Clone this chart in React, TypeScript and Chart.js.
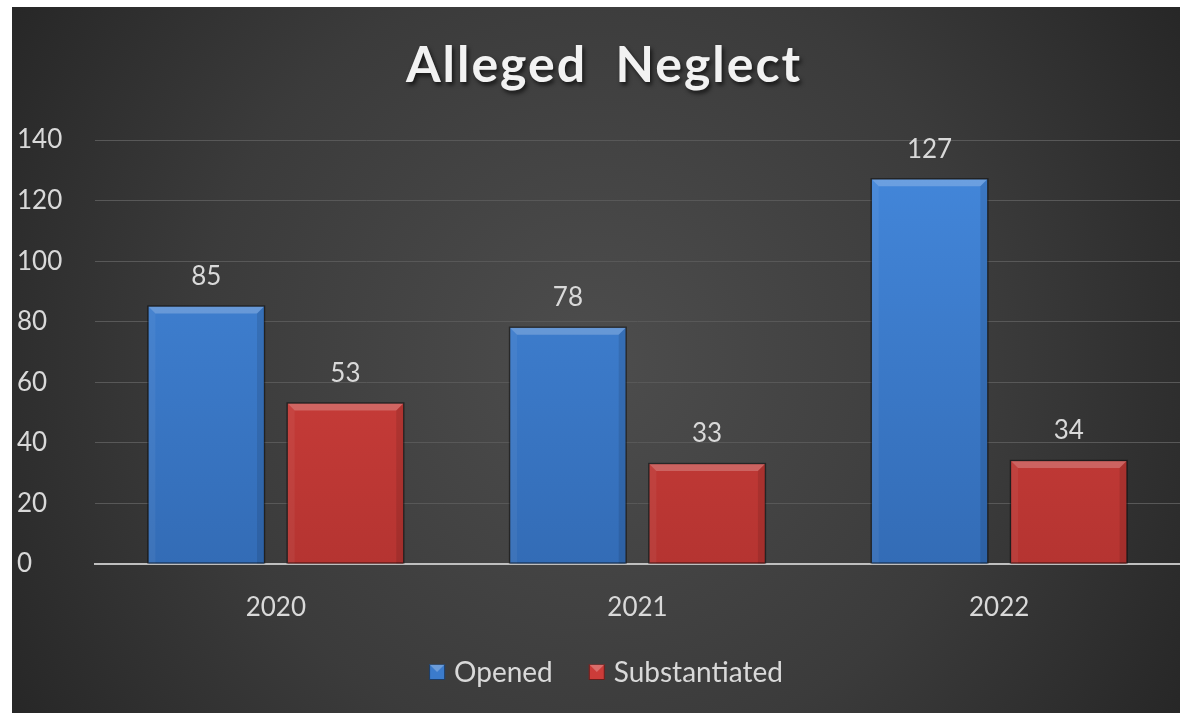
import React, { useEffect, useRef } from "react";
import { Chart, registerables } from "chart.js";

Chart.register(...registerables);

const titleText = "Alleged Neglect";
const categories = ["2020", "2021", "2022"];
const seriesNames = ["Opened", "Substantiated"];
const openedValues = [85, 78, 127];
const substantiatedValues = [53, 33, 34];
const yMin = 0;
const yMax = 140;
const yStep = 20;

const FONT = "Lato, 'Open Sans', sans-serif";
const TEXT = "#d9d9d9";
const BLUE_TOP = "#4488dc";
const BLUE_BOT = "#336cb6";
const RED_TOP = "#dc4541";
const RED_BOT = "#b53431";

const W = 1168;
const H = 706;

const bgPlugin = {
  id: "bg",
  beforeDraw(chart: any) {
    const { ctx, width, height } = chart;
    ctx.save();
    const g = ctx.createRadialGradient(width * 0.5, height * 0.5, 0, width * 0.5, height * 0.5, width * 0.62);
    g.addColorStop(0, "#4d4d4d");
    g.addColorStop(0.55, "#3b3b3b");
    g.addColorStop(1, "#242424");
    ctx.fillStyle = g;
    ctx.fillRect(0, 0, width, height);
    ctx.restore();
  },
};

const titlePlugin = {
  id: "customTitle",
  afterDraw(chart: any) {
    const { ctx, width } = chart;
    ctx.save();
    ctx.font = `bold 50px ${FONT}`;
    (ctx as any).letterSpacing = "2px";
    ctx.textAlign = "center";
    ctx.textBaseline = "middle";
    ctx.shadowColor = "rgba(0,0,0,0.65)";
    ctx.shadowOffsetX = 2;
    ctx.shadowOffsetY = 3;
    ctx.shadowBlur = 4;
    ctx.fillStyle = "#f2f2f2";
    ctx.fillText(titleText.replace(" ", "  "), width / 2 + 8, 59);
    ctx.restore();
  },
};

const bevelPlugin = {
  id: "bevel",
  afterDatasetsDraw(chart: any) {
    const { ctx } = chart;
    ctx.save();
    chart.data.datasets.forEach((ds: any, di: number) => {
      const meta = chart.getDatasetMeta(di);
      meta.data.forEach((el: any) => {
        const { x, y, base, width } = el.getProps(["x", "y", "base", "width"], true);
        const l = x - width / 2;
        const r = x + width / 2;
        const b = 7;
        ctx.fillStyle = "rgba(255,255,255,0.22)";
        ctx.beginPath();
        ctx.moveTo(l, y);
        ctx.lineTo(r, y);
        ctx.lineTo(r - b, y + b);
        ctx.lineTo(l + b, y + b);
        ctx.closePath();
        ctx.fill();
        ctx.fillStyle = "rgba(255,255,255,0.05)";
        ctx.beginPath();
        ctx.moveTo(l, y);
        ctx.lineTo(l + b, y + b);
        ctx.lineTo(l + b, base);
        ctx.lineTo(l, base);
        ctx.closePath();
        ctx.fill();
        ctx.fillStyle = "rgba(0,0,0,0.1)";
        ctx.beginPath();
        ctx.moveTo(r, y);
        ctx.lineTo(r - b, y + b);
        ctx.lineTo(r - b, base);
        ctx.lineTo(r, base);
        ctx.closePath();
        ctx.fill();
        ctx.strokeStyle = "rgba(0,0,0,0.45)";
        ctx.lineWidth = 1.5;
        ctx.strokeRect(l - 0.5, y - 0.5, width + 1, base - y);
      });
    });
    ctx.restore();
  },
};

const labelPlugin = {
  id: "valueLabels",
  afterDatasetsDraw(chart: any) {
    const { ctx } = chart;
    ctx.save();
    ctx.font = `26px ${FONT}`;
    ctx.fillStyle = TEXT;
    ctx.textAlign = "center";
    ctx.textBaseline = "middle";
    chart.data.datasets.forEach((ds: any, di: number) => {
      const meta = chart.getDatasetMeta(di);
      meta.data.forEach((el: any, i: number) => {
        const { x, y } = el.getProps(["x", "y"], true);
        ctx.fillText(String(ds.data[i]), x, y - 30);
      });
    });
    ctx.restore();
  },
};

const legendPlugin = {
  id: "customLegend",
  afterDraw(chart: any) {
    const { ctx, width } = chart;
    ctx.save();
    ctx.font = `28px ${FONT}`;
    ctx.textBaseline = "middle";
    const box = 16;
    const gap = 9;
    const itemGap = 36;
    const items = chart.data.datasets.map((ds: any) => ({
      label: ds.label,
      color: ds.legendColor,
      w: ctx.measureText(ds.label).width,
    }));
    const total = items.reduce((s: number, it: any) => s + box + gap + it.w, 0) + itemGap * (items.length - 1);
    let x = width / 2 + 10 - total / 2;
    const cy = 665;
    items.forEach((it: any) => {
      ctx.fillStyle = it.color;
      ctx.fillRect(x, cy - box / 2, box, box);
      ctx.fillStyle = "rgba(255,255,255,0.25)";
      ctx.beginPath();
      ctx.moveTo(x, cy - box / 2);
      ctx.lineTo(x + box, cy - box / 2);
      ctx.lineTo(x + box / 2, cy);
      ctx.closePath();
      ctx.fill();
      ctx.strokeStyle = "rgba(0,0,0,0.5)";
      ctx.lineWidth = 1;
      ctx.strokeRect(x + 0.5, cy - box / 2 + 0.5, box - 1, box - 1);
      ctx.fillStyle = TEXT;
      ctx.textAlign = "left";
      ctx.fillText(it.label, x + box + gap, cy + 1);
      x += box + gap + it.w + itemGap;
    });
    ctx.restore();
  },
};

function barGradient(top: string, bot: string) {
  return (context: any) => {
    const area = context.chart.chartArea;
    if (!area) return top;
    const g = context.chart.ctx.createLinearGradient(0, area.top, 0, area.bottom);
    g.addColorStop(0, top);
    g.addColorStop(1, bot);
    return g;
  };
}

export default function App() {
  const ref = useRef<HTMLCanvasElement | null>(null);

  useEffect(() => {
    if (!ref.current) return;
    const chart = new Chart(ref.current, {
      type: "bar",
      data: {
        labels: categories,
        datasets: [
          {
            label: seriesNames[0],
            data: openedValues,
            backgroundColor: barGradient(BLUE_TOP, BLUE_BOT),
            legendColor: "#3b7bcc",
            categoryPercentage: 0.77,
            barPercentage: 0.83,
          } as any,
          {
            label: seriesNames[1],
            data: substantiatedValues,
            backgroundColor: barGradient(RED_TOP, RED_BOT),
            legendColor: "#cc3c39",
            categoryPercentage: 0.77,
            barPercentage: 0.83,
          } as any,
        ],
      },
      options: {
        animation: false,
        responsive: false,
        maintainAspectRatio: false,
        layout: { padding: { left: 5, right: 0, top: 133, bottom: 89 } },
        plugins: {
          legend: { display: false },
          title: { display: false },
          tooltip: { enabled: false },
        },
        scales: {
          x: {
            grid: { display: false, drawTicks: false },
            border: { display: true, color: "#bfbfbf", width: 2 },
            ticks: { color: TEXT, font: { family: FONT, size: 26 }, padding: 28 },
            afterFit(scale: any) {
              scale.height = 60;
            },
          },
          y: {
            min: yMin,
            max: yMax,
            grid: { color: "#585858", lineWidth: 1, drawTicks: false },
            border: { display: false },
            ticks: {
              stepSize: yStep,
              color: TEXT,
              font: { family: FONT, size: 26 },
              crossAlign: "far",
              padding: 0,
            },
            afterFit(scale: any) {
              scale.width = 78;
            },
          },
        },
      },
      plugins: [bgPlugin, bevelPlugin, labelPlugin, titlePlugin, legendPlugin],
    });
    return () => chart.destroy();
  }, []);

  return (
    <div style={{ position: "absolute", left: 12, top: 7, width: W, height: H }}>
      <canvas ref={ref} width={W} height={H} style={{ display: "block", width: W, height: H }} />
    </div>
  );
}
